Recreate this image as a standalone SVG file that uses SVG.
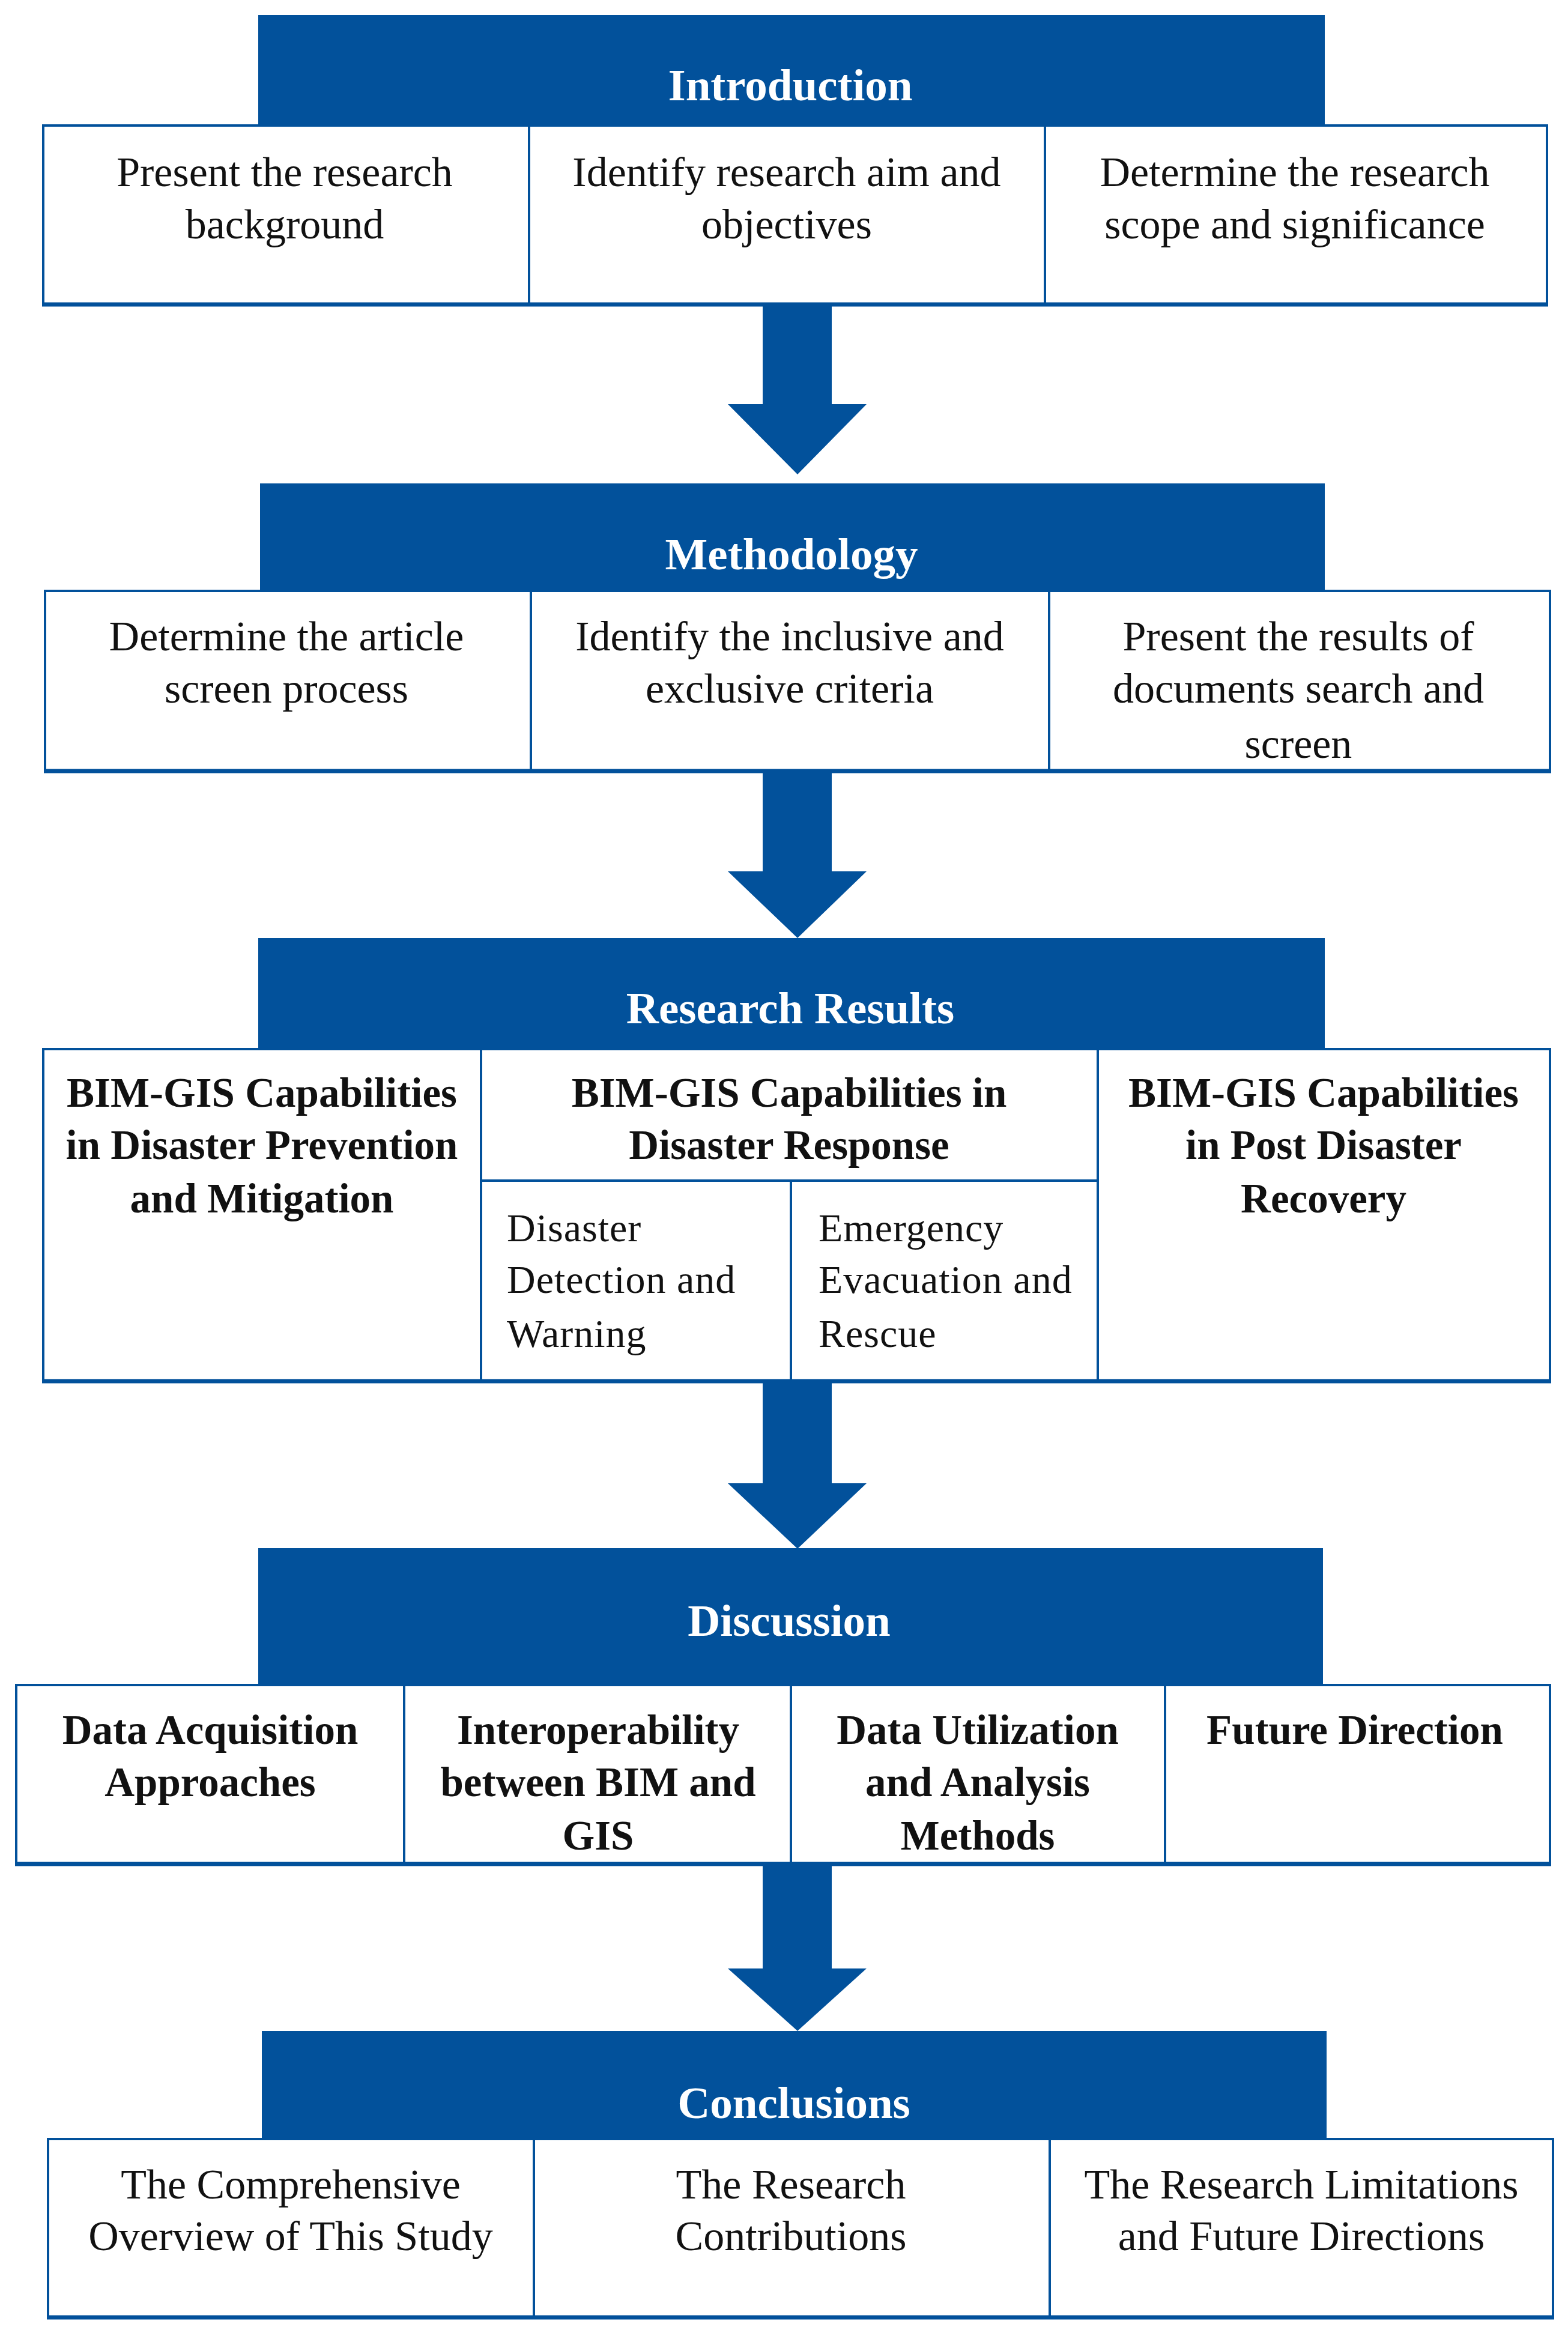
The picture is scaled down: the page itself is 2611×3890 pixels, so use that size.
<svg xmlns="http://www.w3.org/2000/svg" width="2611" height="3890" viewBox="0 0 2611 3890">
<style>
.bg{fill:#ffffff}
.hdr{fill:#02519b}
.cell{fill:#ffffff;stroke:#02519b;stroke-width:4}
.base{stroke:#02519b;stroke-width:7}
.arrow{fill:#02519b}
.ht{font-family:"Liberation Serif",serif;font-weight:bold;font-size:75px;fill:#ffffff;text-anchor:middle}
.t{font-family:"Liberation Serif",serif;font-size:70px;fill:#111111;text-anchor:middle}
.tb{font-family:"Liberation Serif",serif;font-weight:bold;font-size:69px;fill:#111111;text-anchor:middle}
.ts{font-family:"Liberation Serif",serif;font-size:66px;fill:#111111;letter-spacing:1px}
</style>
<rect class="bg" x="0" y="0" width="2611" height="3890"/>

<!-- Introduction -->
<g id="intro-1"><rect class="cell" x="72" y="209" width="809" height="298"/>
<text class="t" x="474" y="310">Present the research</text><text class="t" x="474" y="397">background</text></g>
<g id="intro-2"><rect class="cell" x="881" y="209" width="859" height="298"/>
<text class="t" x="1310" y="310">Identify research aim and</text><text class="t" x="1310" y="397">objectives</text></g>
<g id="intro-3"><rect class="cell" x="1740" y="209" width="836" height="298"/>
<text class="t" x="2156" y="310">Determine the research</text><text class="t" x="2156" y="397">scope and significance</text></g>
<line class="base" x1="70" y1="507" x2="2578" y2="507"/>
<g id="introduction"><rect class="hdr" x="430" y="25" width="1776" height="186"/>
<text class="ht" x="1316" y="167">Introduction</text></g>

<!-- Methodology -->
<g id="meth-1"><rect class="cell" x="75" y="984" width="809" height="300"/>
<text class="t" x="477" y="1083">Determine the article</text><text class="t" x="477" y="1170">screen process</text></g>
<g id="meth-2"><rect class="cell" x="884" y="984" width="863" height="300"/>
<text class="t" x="1315" y="1083">Identify the inclusive and</text><text class="t" x="1315" y="1170">exclusive criteria</text></g>
<g id="meth-3"><rect class="cell" x="1747" y="984" width="834" height="300"/>
<text class="t" x="2162" y="1083">Present the results of</text><text class="t" x="2162" y="1170">documents search and</text><text class="t" x="2162" y="1262">screen</text></g>
<line class="base" x1="73" y1="1284" x2="2583" y2="1284"/>
<g id="methodology"><rect class="hdr" x="433" y="805" width="1773" height="181"/>
<text class="ht" x="1318" y="948">Methodology</text></g>

<!-- Research Results -->
<g id="res-1"><rect class="cell" x="72" y="1747" width="729" height="553"/>
<text class="tb" x="436" y="1843">BIM-GIS Capabilities</text><text class="tb" x="436" y="1930">in Disaster Prevention</text><text class="tb" x="436" y="2019">and Mitigation</text></g>
<g id="res-2"><rect class="cell" x="801" y="1747" width="1027" height="219"/>
<text class="tb" x="1314" y="1843">BIM-GIS Capabilities in</text><text class="tb" x="1314" y="1930">Disaster Response</text></g>
<g id="res-2a"><rect class="cell" x="801" y="1966" width="516" height="334"/>
<text class="ts" x="844" y="2067">Disaster</text><text class="ts" x="844" y="2153">Detection and</text><text class="ts" x="844" y="2243">Warning</text></g>
<g id="res-2b"><rect class="cell" x="1317" y="1966" width="511" height="334"/>
<text class="ts" x="1363" y="2067">Emergency</text><text class="ts" x="1363" y="2153">Evacuation and</text><text class="ts" x="1363" y="2243">Rescue</text></g>
<g id="res-3"><rect class="cell" x="1828" y="1747" width="753" height="553"/>
<text class="tb" x="2204" y="1843">BIM-GIS Capabilities</text><text class="tb" x="2204" y="1930">in Post Disaster</text><text class="tb" x="2204" y="2019">Recovery</text></g>
<line class="base" x1="70" y1="2300" x2="2583" y2="2300"/>
<g id="research-results"><rect class="hdr" x="430" y="1562" width="1776" height="186"/>
<text class="ht" x="1316" y="1704">Research Results</text></g>

<!-- Discussion -->
<g id="disc-1"><rect class="cell" x="27" y="2806" width="646" height="298"/>
<text class="tb" x="350" y="2904">Data Acquisition</text><text class="tb" x="350" y="2991">Approaches</text></g>
<g id="disc-2"><rect class="cell" x="673" y="2806" width="644" height="298"/>
<text class="tb" x="996" y="2904">Interoperability</text><text class="tb" x="996" y="2991">between BIM and</text><text class="tb" x="996" y="3080">GIS</text></g>
<g id="disc-3"><rect class="cell" x="1317" y="2806" width="623" height="298"/>
<text class="tb" x="1628" y="2904">Data Utilization</text><text class="tb" x="1628" y="2991">and Analysis</text><text class="tb" x="1628" y="3080">Methods</text></g>
<g id="disc-4"><rect class="cell" x="1940" y="2806" width="641" height="298"/>
<text class="tb" x="2256" y="2904">Future Direction</text></g>
<line class="base" x1="25" y1="3104" x2="2583" y2="3104"/>
<g id="discussion"><rect class="hdr" x="430" y="2578" width="1773" height="230"/>
<text class="ht" x="1314" y="2724">Discussion</text></g>

<!-- Conclusions -->
<g id="conc-1"><rect class="cell" x="80" y="3562" width="809" height="297"/>
<text class="t" x="484" y="3661">The Comprehensive</text><text class="t" x="484" y="3747">Overview of This Study</text></g>
<g id="conc-2"><rect class="cell" x="889" y="3562" width="859" height="297"/>
<text class="t" x="1317" y="3661">The Research</text><text class="t" x="1317" y="3747">Contributions</text></g>
<g id="conc-3"><rect class="cell" x="1748" y="3562" width="838" height="297"/>
<text class="t" x="2167" y="3661">The Research Limitations</text><text class="t" x="2167" y="3747">and Future Directions</text></g>
<line class="base" x1="78" y1="3859" x2="2588" y2="3859"/>
<g id="conclusions"><rect class="hdr" x="436" y="3382" width="1773" height="182"/>
<text class="ht" x="1322" y="3527">Conclusions</text></g>

<!-- Connectors -->
<g id="connectors">
<polygon class="arrow" points="1270,507 1385,507 1385,673 1443,673 1328,790 1212,673 1270,673"/>
<polygon class="arrow" points="1270,1284 1385,1284 1385,1451 1443,1451 1328,1562 1212,1451 1270,1451"/>
<polygon class="arrow" points="1270,2298 1385,2298 1385,2470 1443,2470 1328,2579 1212,2470 1270,2470"/>
<polygon class="arrow" points="1270,3104 1385,3104 1385,3278 1443,3278 1328,3382 1212,3278 1270,3278"/>
</g>
</svg>
